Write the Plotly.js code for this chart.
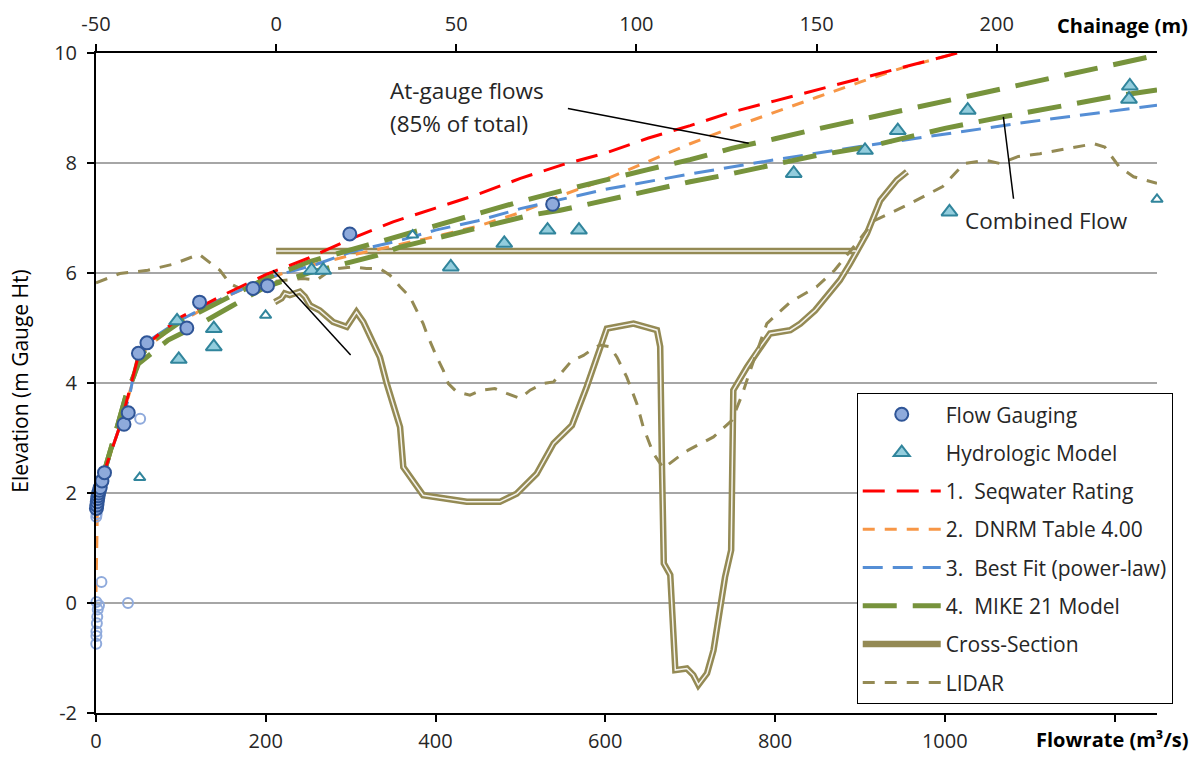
<!DOCTYPE html>
<html><head><meta charset="utf-8">
<script src="https://cdn.plot.ly/plotly-3.0.1.min.js"></script>
<style>html,body{margin:0;padding:0;background:#fff}#chart{width:1200px;height:757px}</style>
</head><body><div id="chart"></div>
<script>
// ---- Flow gaugings (flowrate m3/s, elevation m) ----
const gaugeFlow = [0.5, 1, 1.5, 2, 2.5, 3, 4, 5, 7, 10, 33, 38, 50, 60, 107, 122, 185, 202, 299, 538];
const gaugeElev = [1.72, 1.78, 1.84, 1.9, 1.95, 2.0, 2.05, 2.1, 2.22, 2.37, 3.25, 3.46, 4.54, 4.73, 5.0, 5.47, 5.72, 5.77, 6.71, 7.25];
// older / low-stage gaugings (open circles)
const oldGaugeFlow = [0.3, 0.5, 1, 1.5, 0.5, 3.5, 6.4, 37.7, 52, 0.3, 0.8, 2, 0.5];
const oldGaugeElev = [-0.74, -0.52, -0.37, -0.25, 0.02, -0.04, 0.38, 0.0, 3.35, 1.57, 1.62, -0.12, -0.6];
// ---- Hydrologic model ----
const hydroFlow = [95.5, 97.5, 138.8, 138.8, 254, 267.7, 418, 481, 532, 569, 822, 906, 944.6, 1005.5, 1027, 1217, 1218];
const hydroElev = [5.13, 4.43, 4.99, 4.66, 6.05, 6.05, 6.11, 6.54, 6.78, 6.78, 7.81, 8.23, 8.59, 7.11, 8.96, 9.16, 9.40];
const hydroSmallFlow = [51.5, 199.8, 373, 1250];
const hydroSmallElev = [2.28, 5.23, 6.69, 7.34];
// ---- 1. Seqwater rating ----
const seqFlow = [0, 5, 10, 20, 30, 40, 50, 60, 75, 100, 150, 200, 250, 300, 350, 400, 450, 500, 550, 600, 650, 700, 750, 800, 850, 900, 950, 1015];
const seqElev = [1.65, 2.05, 2.4, 2.85, 3.3, 3.9, 4.5, 4.7, 4.9, 5.2, 5.6, 5.97, 6.27, 6.62, 6.93, 7.18, 7.43, 7.72, 7.97, 8.18, 8.45, 8.68, 8.93, 9.13, 9.33, 9.53, 9.73, 10.0];
// ---- 2. DNRM table 4.00 ----
const dnrmFlow = [0, 0.5, 1.5, 4, 10, 20, 30, 40, 50, 60, 100, 150, 200, 230, 300, 390, 450, 500, 550, 600, 650, 700, 750, 800, 850, 900, 950, 1015];
const dnrmElev = [0.2, 0.9, 1.6, 1.95, 2.38, 2.85, 3.3, 3.85, 4.4, 4.65, 5.12, 5.55, 5.88, 6.05, 6.32, 6.63, 6.85, 7.1, 7.42, 7.7, 8.02, 8.35, 8.65, 8.93, 9.2, 9.47, 9.73, 10.0];
// ---- 3. Best fit (power law) ----
const fitFlow = [0, 5, 10, 20, 30, 40, 45, 50, 60, 100, 150, 200, 260, 300, 360, 400, 450, 500, 600, 700, 800, 900, 1000, 1100, 1250];
const fitElev = [1.75, 2.05, 2.35, 2.85, 3.3, 3.8, 4.2, 4.5, 4.75, 5.15, 5.55, 5.9, 6.16, 6.38, 6.6, 6.78, 6.95, 7.17, 7.52, 7.8, 8.06, 8.3, 8.53, 8.75, 9.05];
// ---- 4. MIKE 21 model: at-gauge flows (85% of total) ----
const mikeGaugeFlow = [8, 15, 25, 35, 45, 50, 70, 100, 150, 200, 250, 300, 350, 400, 450, 500, 550, 600, 650, 700, 750, 800, 850, 960, 1097, 1250];
const mikeGaugeElev = [2.3, 2.7, 3.2, 3.75, 4.15, 4.45, 4.8, 5.12, 5.5, 5.9, 6.2, 6.42, 6.65, 6.88, 7.1, 7.3, 7.5, 7.7, 7.88, 8.06, 8.27, 8.44, 8.62, 8.99, 9.45, 9.96];
// ---- 4. MIKE 21 model: combined flow ----
const mikeCombFlow = [8, 15, 25, 35, 45, 50, 85, 120, 160, 200, 250, 291, 331, 358, 401, 456, 511, 547, 590, 655, 700, 741, 785, 850, 908, 1000, 1069, 1195, 1250];
const mikeCombElev = [2.3, 2.7, 3.2, 3.75, 4.15, 4.35, 4.78, 5.05, 5.4, 5.75, 6.0, 6.17, 6.32, 6.47, 6.63, 6.84, 7.05, 7.14, 7.29, 7.51, 7.66, 7.78, 7.93, 8.14, 8.29, 8.63, 8.84, 9.2, 9.33];
// ---- Cross-section (chainage m, elevation m) ----
const xsChain = [0, 161, null, -0.4, 1.5, 2.4, 3.8, 6.6, 8.0, 9.4, 12.1, 15.8, 19.6, 22.3, 24.2, 28.8, 30.7, 34.4, 35.3, 40.8, 52.9, 62.1, 66.8, 72.3, 77, 82.1, 86.2, 91.8, 99.2, 105.7, 106.6, 107.1, 107.6, 109.4, 110.8, 114.0, 115.8, 117.2, 119.6, 121.4, 123.3, 124.6, 126.3, 126.9, 130.7, 134.4, 137.1, 142.7, 145.5, 149.6, 156.5, 159.3, 164, 167.7, 172.3, 175.1];
const xsElev = [6.4, 6.4, null, 5.47, 5.54, 5.63, 5.6, 5.66, 5.57, 5.41, 5.32, 5.11, 5.02, 5.29, 5.11, 4.47, 3.99, 3.2, 2.47, 1.96, 1.84, 1.84, 1.99, 2.35, 2.9, 3.23, 3.93, 4.99, 5.08, 4.96, 4.66, 2.47, 0.72, 0.51, -1.22, -1.19, -1.31, -1.49, -1.28, -0.86, -0.07, 0.47, 0.96, 3.87, 4.29, 4.66, 4.9, 4.96, 5.08, 5.32, 5.87, 6.17, 6.72, 7.32, 7.69, 7.84];
// ---- LIDAR ----
const lidarChain = [-50, -43.4, -35.6, -28.6, -21.4, -15.6, -12.9, -10.1, -5, 0, 4, 7.5, 11.2, 14, 16.8, 21.4, 25.1, 28.8, 31.6, 34.4, 37.1, 39, 40.8, 41.8, 43.6, 44.6, 46.4, 47.8, 50.1, 53.8, 57.1, 60.7, 64, 67.7, 70.5, 74.2, 77, 79.7, 82.1, 85.3, 88.1, 89.9, 92.7, 94.6, 97.3, 100.1, 101.9, 104.7, 107.5, 111.7, 114.4, 121.4, 126.5, 129.3, 131.6, 136.2, 142.7, 150, 155, 160, 166, 175, 185, 191, 197, 201, 206, 212, 220, 227, 230, 234, 238, 244.5];
const lidarElev = [5.82, 5.99, 6.05, 6.16, 6.34, 6.05, 5.81, 5.72, 5.78, 5.85, 5.88, 5.9, 5.87, 6.0, 6.08, 6.11, 6.08, 6.08, 5.96, 5.75, 5.57, 5.32, 5.08, 4.9, 4.6, 4.47, 4.23, 3.99, 3.84, 3.78, 3.87, 3.9, 3.81, 3.72, 3.87, 3.99, 4.02, 4.23, 4.41, 4.5, 4.63, 4.69, 4.66, 4.47, 4.11, 3.63, 3.2, 2.72, 2.45, 2.66, 2.78, 3.02, 3.32, 3.78, 4.23, 5.08, 5.47, 5.75, 6.05, 6.45, 6.95, 7.23, 7.57, 7.99, 8.05, 7.99, 8.12, 8.17, 8.26, 8.35, 8.29, 7.93, 7.75, 7.63];
// ---- Labels ----
const legendNames = ['Flow Gauging', 'Hydrologic Model', '1.\u00a0\u00a0Seqwater Rating', '2.\u00a0\u00a0DNRM Table 4.00', '3.\u00a0\u00a0Best Fit (power-law)', '4.\u00a0\u00a0MIKE 21 Model', 'Cross-Section', 'LIDAR'];
const flowTicks = [0, 200, 400, 600, 800, 1000, 1200];
const flowTickText = ['0', '200', '400', '600', '800', '1000', ''];
const chainTicks = [-50, 0, 50, 100, 150, 200];
const chainTickText = ['-50', '0', '50', '100', '150', '200'];
const elevTicks = [-2, 0, 2, 4, 6, 8, 10];
const elevTickText = ['-2', '0', '2', '4', '6', '8', '10'];

const FONT = '"Open Sans", "Noto Sans", sans-serif';
const TXT = '#262626';
const olive = '#948a54';

const traces = [
  // base subplot: chainage (top axis)
  {x: xsChain, y: xsElev, xaxis: 'x', yaxis: 'y', mode: 'lines', name: legendNames[6], legendrank: 7, legendgroup: 'g7',
   line: {color: olive, width: 6.5}, connectgaps: false},
  {x: xsChain, y: xsElev, xaxis: 'x', yaxis: 'y', mode: 'lines', showlegend: false, legendgroup: 'g7', hoverinfo: 'skip',
   line: {color: 'rgba(255,255,255,0.9)', width: 1.5}, connectgaps: false},
  {x: lidarChain, y: lidarElev, xaxis: 'x', yaxis: 'y', mode: 'lines', name: legendNames[7], legendrank: 8, legendgroup: 'g8',
   line: {color: olive, width: 3, dash: '12px,10px'}},
  // overlay subplot: flowrate (bottom axis)
  {x: dnrmFlow, y: dnrmElev, xaxis: 'x2', yaxis: 'y', mode: 'lines', name: legendNames[3], legendrank: 4, legendgroup: 'g4',
   line: {color: '#f79646', width: 3, dash: '12px,10px'}},
  {x: fitFlow, y: fitElev, xaxis: 'x2', yaxis: 'y', mode: 'lines', name: legendNames[4], legendrank: 5, legendgroup: 'g5',
   line: {color: '#558ed5', width: 3, dash: '20px,10px'}},
  {x: mikeGaugeFlow, y: mikeGaugeElev, xaxis: 'x2', yaxis: 'y', mode: 'lines', name: legendNames[5], legendrank: 6, legendgroup: 'g6',
   line: {color: '#77933c', width: 5, dash: '34px,16px'}},
  {x: mikeCombFlow, y: mikeCombElev, xaxis: 'x2', yaxis: 'y', mode: 'lines', showlegend: false, legendgroup: 'g6',
   line: {color: '#77933c', width: 5, dash: '34px,16px'}},
  {x: seqFlow, y: seqElev, xaxis: 'x2', yaxis: 'y', mode: 'lines', name: legendNames[2], legendrank: 3, legendgroup: 'g3',
   line: {color: '#ff0000', width: 3, dash: '22px,12px'}},
  {x: oldGaugeFlow, y: oldGaugeElev, xaxis: 'x2', yaxis: 'y', mode: 'markers', showlegend: false, legendgroup: 'g1', cliponaxis: false,
   marker: {symbol: 'circle-open', size: 10, color: '#8faadc', line: {width: 2, color: '#8faadc'}}},
  {x: hydroSmallFlow, y: hydroSmallElev, xaxis: 'x2', yaxis: 'y', mode: 'markers', showlegend: false, legendgroup: 'g2', cliponaxis: false,
   marker: {symbol: 'triangle-up', size: 10, color: '#ffffff', line: {width: 2, color: '#31859c'}}},
  {x: hydroFlow, y: hydroElev, xaxis: 'x2', yaxis: 'y', mode: 'markers', name: legendNames[1], legendrank: 2, legendgroup: 'g2', cliponaxis: false,
   marker: {symbol: 'triangle-up', size: 14, color: '#93cddd', line: {width: 2, color: '#31859c'}}},
  {x: gaugeFlow, y: gaugeElev, xaxis: 'x2', yaxis: 'y', mode: 'markers', name: legendNames[0], legendrank: 1, legendgroup: 'g1', cliponaxis: false,
   marker: {symbol: 'circle', size: 13, color: '#8eaadb', line: {width: 2, color: '#2f5597'}}}
];

const axisCommon = {
  showline: true, linecolor: '#000', linewidth: 2, ticks: 'outside', ticklen: 7, tickwidth: 2, tickcolor: '#000',
  zeroline: false, tickfont: {family: FONT, size: 20, color: TXT}
};

const layout = {
  width: 1200, height: 757,
  margin: {l: 96, r: 43, t: 53, b: 44},
  paper_bgcolor: '#fff', plot_bgcolor: '#fff',
  font: {family: FONT, color: TXT},
  showlegend: true,
  xaxis: Object.assign({}, axisCommon, {side: 'top', range: [-50, 244.5], tickvals: chainTicks, ticktext: chainTickText, showgrid: false, anchor: 'y', ticklabelstandoff: 5}),
  xaxis2: Object.assign({}, axisCommon, {side: 'bottom', overlaying: 'x', anchor: 'y', range: [0, 1250], tickvals: flowTicks, ticktext: flowTickText, showgrid: false, ticklabelstandoff: 2}),
  yaxis: Object.assign({}, axisCommon, {range: [-2, 10], tickvals: elevTicks, ticktext: elevTickText, showgrid: true, gridcolor: '#a6a6a6', gridwidth: 2, ticklabelstandoff: 6}),
  legend: {x: 0.717, y: 0.4846, xanchor: 'left', yanchor: 'top', bgcolor: '#fff', bordercolor: '#000', borderwidth: 1,
    font: {family: FONT, size: 21, color: TXT}, traceorder: 'grouped', tracegroupgap: 8, itemwidth: 78},
  shapes: [
    {type: 'line', xref: 'x2', yref: 'y', x0: 556, y0: 8.99, x1: 769, y1: 8.36, line: {color: '#000', width: 1.5}},
    {type: 'line', xref: 'x2', yref: 'y', x0: 1069, y0: 8.84, x1: 1081, y1: 7.35, line: {color: '#000', width: 1.5}},
    {type: 'line', xref: 'x2', yref: 'y', x0: 208.7, y0: 6.05, x1: 300, y1: 4.51, line: {color: '#000', width: 1.5}}
  ],
  annotations: [
    {xref: 'x2', yref: 'y', x: 344, y: 9.32, text: 'At-gauge flows', showarrow: false, xanchor: 'left', yanchor: 'middle', font: {family: FONT, size: 22.5, color: TXT}},
    {xref: 'x2', yref: 'y', x: 344, y: 8.72, text: '(85% of total)', showarrow: false, xanchor: 'left', yanchor: 'middle', font: {family: FONT, size: 22.5, color: TXT}},
    {xref: 'x2', yref: 'y', x: 1022, y: 6.96, text: 'Combined Flow', showarrow: false, xanchor: 'left', yanchor: 'middle', font: {family: FONT, size: 22.5, color: TXT}},
    {xref: 'paper', yref: 'paper', x: 1.0314, y: -0.0409, text: '<b>Flowrate (m³/s)</b>', showarrow: false, xanchor: 'right', yanchor: 'middle', font: {family: FONT, size: 20, color: '#000'}},
    {xref: 'paper', yref: 'paper', x: 1.0314, y: 1.042, text: '<b>Chainage (m)</b>', showarrow: false, xanchor: 'right', yanchor: 'middle', font: {family: FONT, size: 20, color: '#000'}},
    {xref: 'paper', yref: 'paper', x: -0.072, y: 0.503, text: 'Elevation (m Gauge Ht)', textangle: -90, showarrow: false, xanchor: 'center', yanchor: 'middle', font: {family: FONT, size: 21, color: '#000'}}
  ]
};

Plotly.newPlot('chart', traces, layout, {staticPlot: true, displayModeBar: false});
</script>
</body></html>
